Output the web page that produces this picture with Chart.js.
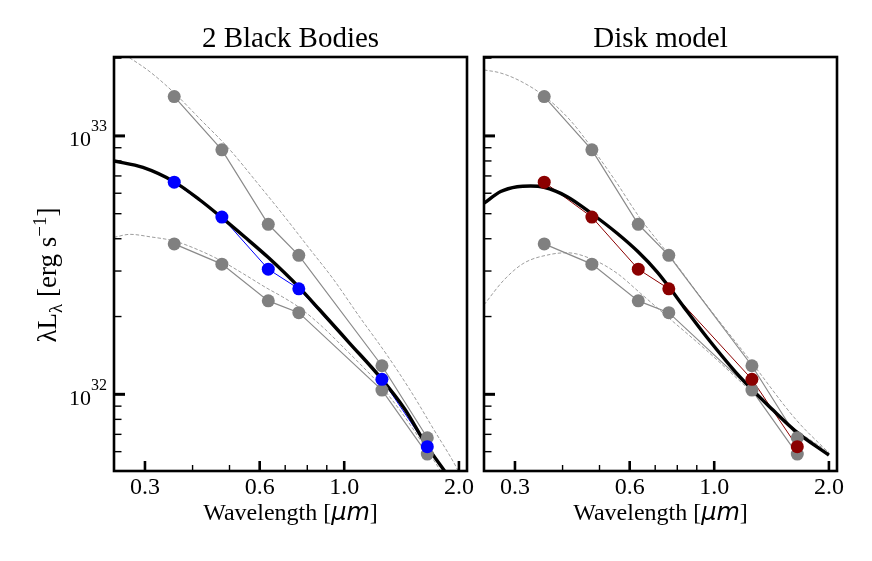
<!DOCTYPE html>
<html><head><meta charset="utf-8">
<script src="https://cdn.jsdelivr.net/npm/chart.js@4.4.0/dist/chart.umd.min.js"></script>
<style>
html,body{margin:0;padding:0;background:#fff;}
#wrap{position:relative;width:872px;height:561px;background:#fff;}
canvas{position:absolute;left:0;top:0;}
</style></head><body>
<div id="wrap"><canvas id="left" width="872" height="561"></canvas><canvas id="right" width="872" height="561"></canvas></div>
<script>
// ---- photometric points (wavelength in micron, lambda L_lambda in erg/s)
const bandWave = [0.358, 0.4775, 0.632, 0.760, 1.256, 1.652];
const fluxHigh = [1.42e33, 8.83e32, 4.55e32, 3.45e32, 1.29e32, 6.79e31];
const fluxMid  = [6.62e32, 4.85e32, 3.05e32, 2.56e32, 1.143e32, 6.27e31];
const fluxLow  = [3.82e32, 3.19e32, 2.30e32, 2.07e32, 1.039e32, 5.87e31];

// ---- two black body model (left panel)
const bbWave = [0.2488, 0.2963, 0.3580, 0.4181, 0.4747, 0.5485, 0.6313, 0.7602, 0.8627, 1.0337, 1.2390, 1.4410, 1.6429, 1.8342, 1.9488];
const bbFlux = [8.00e32, 7.55e32, 6.64e32, 5.65e32, 4.86e32, 4.06e32, 3.39e32, 2.60e32, 2.12e32, 1.576e32, 1.170e32, 8.77e31, 6.36e31, 5.05e31, 4.46e31];
const bbHighWave = [0.2580, 0.2741, 0.3092, 0.3580, 0.4181, 0.4960, 0.6005, 0.6983, 0.8122, 0.9348, 1.0982, 1.2903, 1.5006, 1.7092, 1.9678, 2.0324];
const bbHighFlux = [2.11e33, 2.00e33, 1.77e33, 1.467e33, 1.164e33, 8.99e32, 6.40e32, 4.86e32, 3.65e32, 2.80e32, 1.99e32, 1.43e32, 1.02e32, 7.40e31, 5.23e31, 4.74e31];
const bbLowWave = [0.2488, 0.2741, 0.3092, 0.3580, 0.4181, 0.4767, 0.5452, 0.6253, 0.6898, 0.7647, 0.8785, 1.0134, 1.1182, 1.2390, 1.4238, 1.6429, 1.7906, 1.8668];
const bbLowFlux = [4.05e32, 4.16e32, 4.07e32, 3.92e32, 3.60e32, 3.28e32, 2.92e32, 2.58e32, 2.38e32, 2.16e32, 1.82e32, 1.48e32, 1.28e32, 1.09e32, 8.39e31, 6.14e31, 5.05e31, 4.54e31];

// ---- disk model (right panel)
const diskWave = [0.2488, 0.2752, 0.3041, 0.3298, 0.3573, 0.4113, 0.4755, 0.5561, 0.6313, 0.7080, 0.7615, 0.8318, 0.9541, 1.1665, 1.4264, 1.6429, 2.0];
const diskFlux = [5.49e32, 6.09e32, 6.36e32, 6.40e32, 6.33e32, 5.82e32, 5.02e32, 4.20e32, 3.56e32, 2.98e32, 2.60e32, 2.18e32, 1.67e32, 1.170e32, 8.69e31, 7.16e31, 5.82e31];
const diskHighWave = [0.2488, 0.2741, 0.3092, 0.3573, 0.4181, 0.4775, 0.5485, 0.6379, 0.7647, 0.9541, 1.2390, 1.6429, 2.0];
const diskHighFlux = [1.80e33, 1.754e33, 1.633e33, 1.429e33, 1.153e33, 8.99e32, 6.75e32, 4.82e32, 3.43e32, 2.22e32, 1.36e32, 7.95e31, 5.93e31];
const diskLowWave = [0.2488, 0.2807, 0.3167, 0.3721, 0.4113, 0.4834, 0.5561, 0.6405, 0.7647, 0.9541, 1.2390, 1.6429, 2.0];
const diskLowFlux = [2.22e32, 2.77e32, 3.22e32, 3.48e32, 3.53e32, 3.31e32, 2.94e32, 2.46e32, 1.96e32, 1.48e32, 1.04e32, 7.27e31, 5.98e31];

// ---- axes
const panelTitles = ['2 Black Bodies', 'Disk model'];
const xTickValues = [0.3, 0.6, 1.0, 2.0];
const xMinorTicks = [0.4, 0.5, 0.7, 0.8, 0.9];
const yMajorTicks = [1e32, 1e33];
const yMinorTicks = [6e31, 7e31, 8e31, 9e31, 2e32, 3e32, 4e32, 5e32, 6e32, 7e32, 8e32, 9e32, 2e33];
const xLimits = [0.2488, 2.10];
const yLimits = [5.05e31, 2.02e33];
const xTitleParts = ['Wavelength [', 'μm', ']'];
const yTitleParts = ['λL', 'λ', ' [erg s', '−1', ']'];

const SERIF = "'Liberation Serif','DejaVu Serif',serif";
const SANS = "'DejaVu Sans',sans-serif";

const pts = (xs, ys) => xs.map((x, i) => ({x: x, y: ys[i]}));

function makeDatasets(col, mW, mF, hW, hF, lW, lF) {
  const marker = (c, ys) => ({data: pts(bandWave, ys), showLine: false, pointRadius: 6.5, pointHoverRadius: 6.5,
    pointBackgroundColor: c, pointBorderWidth: 0, borderColor: c});
  const seg = (c, ys, w) => ({data: pts(bandWave, ys), borderColor: c, borderWidth: w, pointRadius: 0, tension: 0});
  const curve = (xs, ys, c, w, dash) => ({data: pts(xs, ys), borderColor: c, borderWidth: w, pointRadius: 0,
    borderDash: dash || [], cubicInterpolationMode: 'monotone'});
  return [
    marker(col, fluxMid),
    marker('#808080', fluxHigh),
    marker('#808080', fluxLow),
    curve(mW, mF, '#000000', 3.4),
    seg(col, fluxMid, 1),
    seg('#8a8a8a', fluxHigh, 1.2),
    seg('#8a8a8a', fluxLow, 1.2),
    curve(hW, hF, '#9c9c9c', 1, [3.5, 2]),
    curve(lW, lF, '#9c9c9c', 1, [3.5, 2])
  ];
}

const decor = {
  id: 'decor',
  afterDraw(chart, args, o) {
    const ctx = chart.ctx, a = chart.chartArea, x = chart.scales.x, y = chart.scales.y;
    ctx.save();
    ctx.strokeStyle = '#000';
    ctx.lineCap = 'butt';
    const tickX = (v, len, w) => { const px = x.getPixelForValue(v); ctx.lineWidth = w;
      ctx.beginPath(); ctx.moveTo(px, a.bottom); ctx.lineTo(px, a.bottom - len); ctx.stroke(); };
    const tickY = (v, len, w) => { const py = y.getPixelForValue(v); ctx.lineWidth = w;
      ctx.beginPath(); ctx.moveTo(a.left, py); ctx.lineTo(a.left + len, py); ctx.stroke(); };
    xTickValues.forEach(v => tickX(v, 10, 2.6));
    xMinorTicks.forEach(v => tickX(v, 6, 1.4));
    yMajorTicks.forEach(v => tickY(v, 11, 3));
    yMinorTicks.forEach(v => tickY(v, 7.5, 1.4));
    // frame
    ctx.lineWidth = 2.6;
    ctx.strokeRect(a.left, a.top, a.right - a.left, a.bottom - a.top);
    ctx.fillStyle = '#000';
    // y tick labels 10^n
    if (o.yLabels) {
      ctx.textBaseline = 'alphabetic';
      yMajorTicks.forEach(v => {
        const py = y.getPixelForValue(v);
        const ex = String(Math.round(Math.log10(v)));
        ctx.font = '22px ' + SERIF; const w1 = ctx.measureText('10').width;
        ctx.font = '16px ' + SERIF; const w2 = ctx.measureText(ex).width;
        const xr = a.left - 7;
        ctx.font = '22px ' + SERIF; ctx.fillText('10', xr - w2 - w1, py + 10.5);
        ctx.font = '16px ' + SERIF; ctx.fillText(ex, xr - w2, py - 4.5);
      });
    }
    // x axis title with mixed fonts
    const xf = ['24px ' + SERIF, 'italic 24px ' + SANS, '24px ' + SERIF];
    let tot = 0; const ws = [];
    xTitleParts.forEach((t, i) => { ctx.font = xf[i]; const w = ctx.measureText(t).width; ws.push(w); tot += w; });
    let cx = (a.left + a.right) / 2 - tot / 2;
    ctx.textBaseline = 'alphabetic'; ctx.textAlign = 'left';
    xTitleParts.forEach((t, i) => { ctx.font = xf[i]; ctx.fillText(t, cx, a.bottom + 49); cx += ws[i]; });
    // y axis title (rotated)
    if (o.yTitle) {
      const sz = [27, 19, 27, 19, 27];
      const dy = [0, 6, 0, -10, 0];
      let t2 = 0; const w2s = [];
      yTitleParts.forEach((t, i) => { ctx.font = sz[i] + 'px ' + SERIF; const w = ctx.measureText(t).width; w2s.push(w); t2 += w; });
      ctx.translate(56, 275);
      ctx.rotate(-Math.PI / 2);
      let lx = -t2 / 2;
      yTitleParts.forEach((t, i) => { ctx.font = sz[i] + 'px ' + SERIF; ctx.fillText(t, lx, dy[i]); lx += w2s[i]; });
    }
    ctx.restore();
  }
};

function makeChart(id, title, datasets, padL, yWidth, padR, showYText) {
  return new Chart(document.getElementById(id), {
    type: 'line',
    data: {datasets: datasets},
    plugins: [decor],
    options: {
      responsive: false,
      animation: false,
      events: [],
      layout: {padding: {left: padL, right: padR, top: 0, bottom: 0}},
      plugins: {
        legend: {display: false},
        tooltip: {enabled: false},
        title: {display: true, text: title, color: '#000', fullSize: false,
          font: {family: SERIF, size: 29, weight: 'normal', lineHeight: 1.1},
          padding: {top: 23, bottom: 2.1}},
        decor: {yLabels: showYText, yTitle: showYText}
      },
      scales: {
        x: {
          type: 'logarithmic', min: xLimits[0], max: xLimits[1],
          afterBuildTicks: s => { s.ticks = xTickValues.map(v => ({value: v})); },
          afterFit: s => { s.height = 90; },
          grid: {display: false, drawTicks: false},
          border: {display: false},
          ticks: {autoSkip: false, maxRotation: 0, minRotation: 0, padding: 2, color: '#000',
            font: {family: SERIF, size: 24}, callback: v => Number(v).toFixed(1)}
        },
        y: {
          type: 'logarithmic', min: yLimits[0], max: yLimits[1],
          afterBuildTicks: s => { s.ticks = yMajorTicks.map(v => ({value: v})); },
          afterFit: s => { s.width = yWidth; },
          grid: {display: false, drawTicks: false},
          border: {display: false},
          ticks: {display: false}
        }
      }
    }
  });
}

makeChart('left', panelTitles[0],
  makeDatasets('#0000ff', bbWave, bbFlux, bbHighWave, bbHighFlux, bbLowWave, bbLowFlux),
  0, 114, 405, true);
makeChart('right', panelTitles[1],
  makeDatasets('#8b0000', diskWave, diskFlux, diskHighWave, diskHighFlux, diskLowWave, diskLowFlux),
  464, 20, 35, false);
</script>
</body></html>
